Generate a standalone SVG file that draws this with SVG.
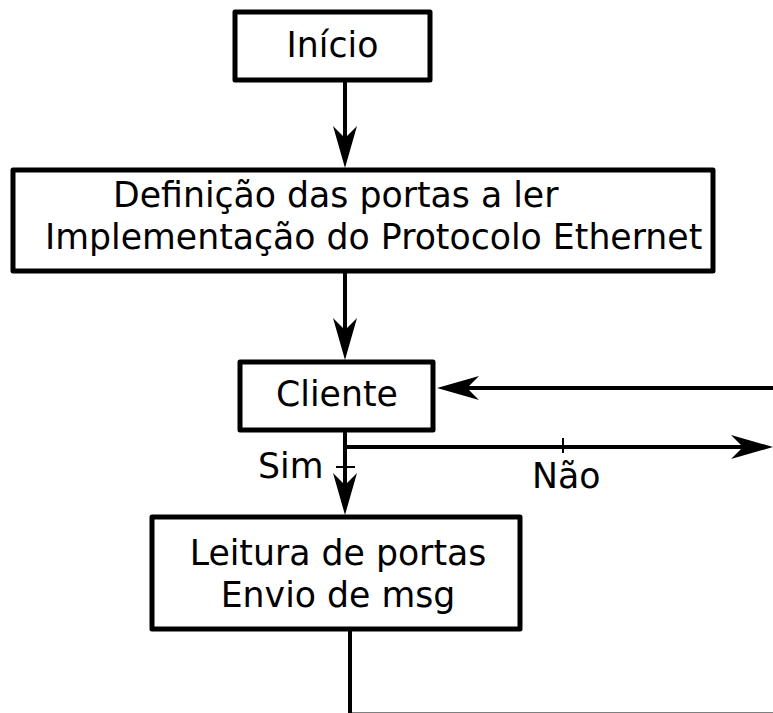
<svg xmlns="http://www.w3.org/2000/svg" width="773" height="713" viewBox="0 0 773 713">
<style>
.box{fill:#fff;stroke:#000;stroke-width:5;stroke-linejoin:round}
.t{font-family:"DejaVu Sans","Liberation Sans",sans-serif;font-size:34.7px;fill:#000}
.c{fill:none;stroke:#000;stroke-width:4}
.tick{fill:none;stroke:#000;stroke-width:2}
</style>
<defs>
<marker id="ah" markerUnits="userSpaceOnUse" orient="auto" refX="0" refY="0" markerWidth="50" markerHeight="30" viewBox="-15 -15 50 30" overflow="visible">
<path d="M30,0 L-12,-12 L0,0 L-12,12 Z" fill="#000"/>
</marker>
</defs>
<rect width="773" height="713" fill="#fff"/>
<g id="connectors">
<path class="c" d="M345,80 V138" marker-end="url(#ah)"/>
<path class="c" d="M345,271 V330" marker-end="url(#ah)"/>
<path class="c" d="M773,388 H467" marker-end="url(#ah)"/>
<path class="c" d="M345,430 V485" marker-end="url(#ah)"/>
<path class="c" d="M345,447 H743" marker-end="url(#ah)"/>
<path class="c" d="M350,629 V714.5 H775"/>
<path class="tick" d="M336,467 H355"/>
<path class="tick" d="M563,438 V453"/>
<text class="t" x="258" y="478">Sim</text>
<text class="t" x="532" y="488">Não</text>
</g>
<g id="inicio">
<rect class="box" x="235" y="12" width="195" height="68"/>
<text class="t" x="332.5" y="57" text-anchor="middle">Início</text>
</g>
<g id="definicao">
<rect class="box" x="13" y="170" width="700" height="101"/>
<text class="t" x="113" y="207">Definição das portas a ler</text>
<text class="t" x="45" y="249">Implementação do Protocolo Ethernet</text>
</g>
<g id="cliente">
<rect class="box" x="240" y="362" width="193" height="68"/>
<text class="t" x="337" y="406" text-anchor="middle">Cliente</text>
</g>
<g id="leitura">
<rect class="box" x="152" y="517" width="368" height="112"/>
<text class="t" x="338" y="565" text-anchor="middle">Leitura de portas</text>
<text class="t" x="338" y="607" text-anchor="middle">Envio de msg</text>
</g>
</svg>
